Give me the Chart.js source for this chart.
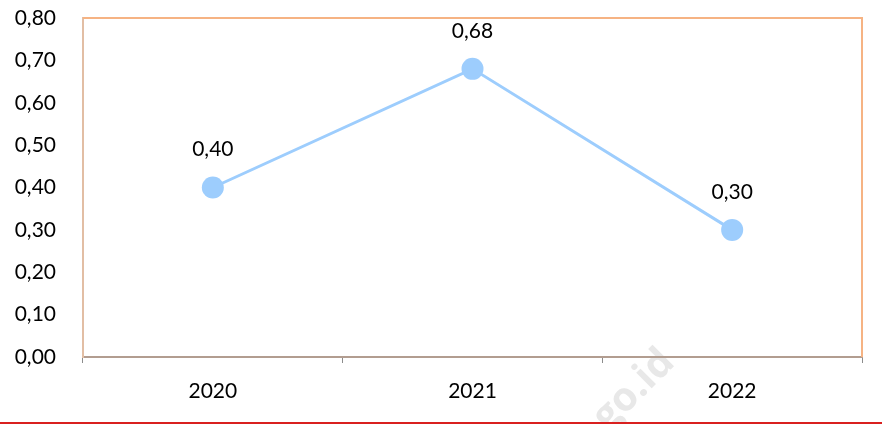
<!DOCTYPE html>
<html>
<head>
<meta charset="utf-8">
<script src="https://cdn.jsdelivr.net/npm/chart.js@4/dist/chart.umd.min.js"></script>
<style>
  html, body { margin: 0; padding: 0; background: #fff; }
  #wrap { position: relative; width: 882px; height: 422px; }
  #line { width: 882px; height: 2px; background: #d9201f; }
</style>
</head>
<body>
<div id="wrap"><canvas id="c"></canvas></div>
<div id="line"></div>
<script>
const categories = ['2020', '2021', '2022'];
const values = [0.40, 0.68, 0.30];
const yTicks = [0, 0.1, 0.2, 0.3, 0.4, 0.5, 0.6, 0.7, 0.8];

const FONT = { family: 'Lato, "Open Sans", sans-serif', size: 21 };
const fmt = v => Number(v).toFixed(2).replace('.', ',');

const framePlugin = {
  id: 'frame',
  beforeDraw(chart) {
    const ctx = chart.ctx;
    ctx.save();
    ctx.translate(634, 390);
    ctx.rotate(-Math.PI / 4);
    ctx.font = 'bold 40px "Open Sans", sans-serif';
    ctx.fillStyle = '#e8e8e8';
    ctx.textAlign = 'center';
    ctx.textBaseline = 'middle';
    ctx.fillText('go.id', 0, 0);
    ctx.restore();
  },
  afterDraw(chart) {
    const a = chart.chartArea;
    const ctx = chart.ctx;
    ctx.save();
    ctx.strokeStyle = '#f6b383';
    ctx.lineWidth = 2;
    ctx.beginPath();
    ctx.moveTo(a.left, a.top);
    ctx.lineTo(a.right, a.top);
    ctx.lineTo(a.right, a.bottom);
    ctx.stroke();
    ctx.restore();
  }
};

const labelPlugin = {
  id: 'vlabels',
  afterDatasetsDraw(chart) {
    const ctx = chart.ctx;
    const meta = chart.getDatasetMeta(0);
    ctx.save();
    ctx.font = FONT.size + 'px ' + FONT.family;
    ctx.fillStyle = '#000';
    ctx.textAlign = 'center';
    ctx.textBaseline = 'middle';
    meta.data.forEach((pt, i) => {
      ctx.fillText(fmt(values[i]), pt.x, pt.y - 38);
    });
    ctx.restore();
  }
};

new Chart(document.getElementById('c'), {
  type: 'line',
  data: {
    labels: categories,
    datasets: [{
      data: values,
      borderColor: '#9dcdfd',
      backgroundColor: '#9dcdfd',
      borderWidth: 3,
      pointRadius: 11,
      pointHoverRadius: 11,
      pointBackgroundColor: '#9dcdfd',
      pointBorderWidth: 0,
      tension: 0,
      fill: false
    }]
  },
  options: {
    responsive: true,
    maintainAspectRatio: false,
    animation: false,
    events: [],
    layout: { padding: { top: 18, right: 20, bottom: 0, left: 0 } },
    plugins: { legend: { display: false }, tooltip: { enabled: false } },
    scales: {
      x: {
        type: 'category',
        offset: true,
        grid: {
          offset: true,
          drawOnChartArea: false,
          drawTicks: true,
          tickLength: 6,
          color: '#8c8c8c',
          lineWidth: 1
        },
        border: { display: true, color: '#b29d90', width: 2 },
        ticks: { color: '#000', font: FONT, padding: 16, maxRotation: 0 },
        afterFit(s) { s.height = 65; s.paddingLeft = 0; s.paddingRight = 0; }
      },
      y: {
        min: 0,
        max: 0.8,
        afterBuildTicks(s) { s.ticks = yTicks.map(v => ({ value: v })); },
        grid: { display: true, drawOnChartArea: false, drawTicks: false },
        border: { display: true, color: '#e2bea4', width: 2 },
        ticks: { color: '#000', font: FONT, padding: 27, callback: v => fmt(v) },
        afterFit(s) { s.width = 83; s.paddingTop = 0; s.paddingBottom = 0; }
      }
    }
  },
  plugins: [framePlugin, labelPlugin]
});
</script>
</body>
</html>
